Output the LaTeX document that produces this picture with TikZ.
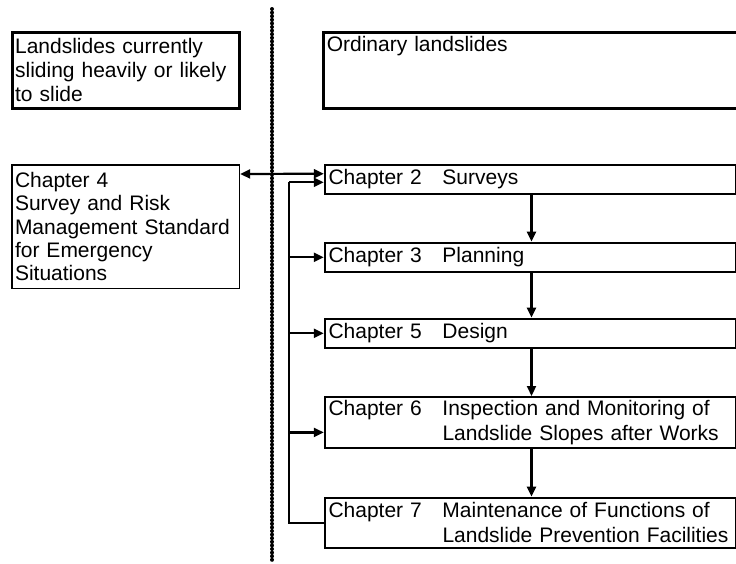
\documentclass[tikz,border=0pt]{standalone}
\usepackage{fontspec}
\setmainfont{Liberation Sans}
\usetikzlibrary{arrows.meta}

\newcommand{\chapline}[2]{\makebox[114pt][l]{Chapter #1}#2}

\begin{document}
\begin{tikzpicture}[x=1pt, y=-1pt,
		heavy/.style={draw, line width=3.2pt, rectangle, anchor=north west, inner xsep=3pt, inner ysep=4pt, align=left, font=\fontsize{21}{24}\selectfont},
		chapbox/.style={draw, line width=2pt, rectangle, anchor=north west, inner xsep=3.5pt, inner ysep=3pt, text width=404pt, minimum width=411.4pt, align=left, font=\fontsize{21}{25}\selectfont},
		sidebox/.style={draw, line width=1.7pt, rectangle, anchor=north west, inner xsep=3.2pt, inner ysep=3pt, text width=221pt, minimum width=227.7pt, align=left, font=\fontsize{21}{23.4}\selectfont},
		arr/.style={line width=2.2pt, -{Triangle[length=10pt,width=9pt]}},
		dblarr/.style={line width=2.2pt, {Triangle[length=10pt,width=9pt]}-{Triangle[length=10pt,width=9pt]}}]

		\useasboundingbox (0,0) rectangle (736,563);

		% the two kinds of landslides
		\node[heavy, text width=221.3pt, minimum height=76pt] (urgent) at (10.5,30.8)
			{Landslides currently\\sliding heavily or likely\\to slide};
		\node[heavy, text width=410pt, text depth=53pt] (ordinary) at (322.2,30.8)
			{Ordinary landslides};

		\draw[line width=4pt, line cap=round, dash pattern=on 0pt off 3.6pt] (272,9) -- (272,563);

		\node[sidebox, minimum height=123.5pt] (ch4) at (10.8,164)
			{Chapter 4\\Survey and Risk\\Management Standard\\for Emergency\\Situations};

		\node[chapbox, minimum height=29.3pt] (ch2) at (323.8,163.7) {\chapline{2}{Surveys}};
		\node[chapbox, minimum height=29.4pt] (ch3) at (323.8,241.6) {\chapline{3}{Planning}};
		\node[chapbox, minimum height=29.4pt] (ch5) at (323.8,317.6) {\chapline{5}{Design}};
		\node[chapbox, minimum height=50.8pt] (ch6) at (323.8,396)
			{\chapline{6}{Inspection and Monitoring of}\\\hspace*{114pt}Landslide Slopes after Works};
		\node[chapbox, minimum height=50.2pt] (ch7) at (323.8,496.6)
			{\chapline{7}{Maintenance of Functions of}\\\hspace*{114pt}Landslide Prevention Facilities};

		\draw[dblarr] ([yshift=-10pt]ch4.north east) -- ([yshift=-10pt]ch2.north west);

		\coordinate (flow) at (531.5,0);
		\foreach \a/\b in {ch2/ch3, ch3/ch5, ch5/ch6, ch6/ch7}
			\draw[arr] (\a.south -| flow) -- (\b.north -| flow);

		% feedback line on the left
		\coordinate (bus) at (289,182.3);
		\draw[line width=2.2pt] (ch7.west) -| (bus);
		\draw[arr] (bus) -- (bus -| ch2.west);
		\draw[arr] (bus |- ch3.west) -- (ch3.west);
		\draw[arr] (bus |- ch5.west) -- (ch5.west);
		\draw[arr] ([yshift=-10pt]ch6.west -| bus) -- ([yshift=-10pt]ch6.west);
	\end{tikzpicture}
\end{document}
